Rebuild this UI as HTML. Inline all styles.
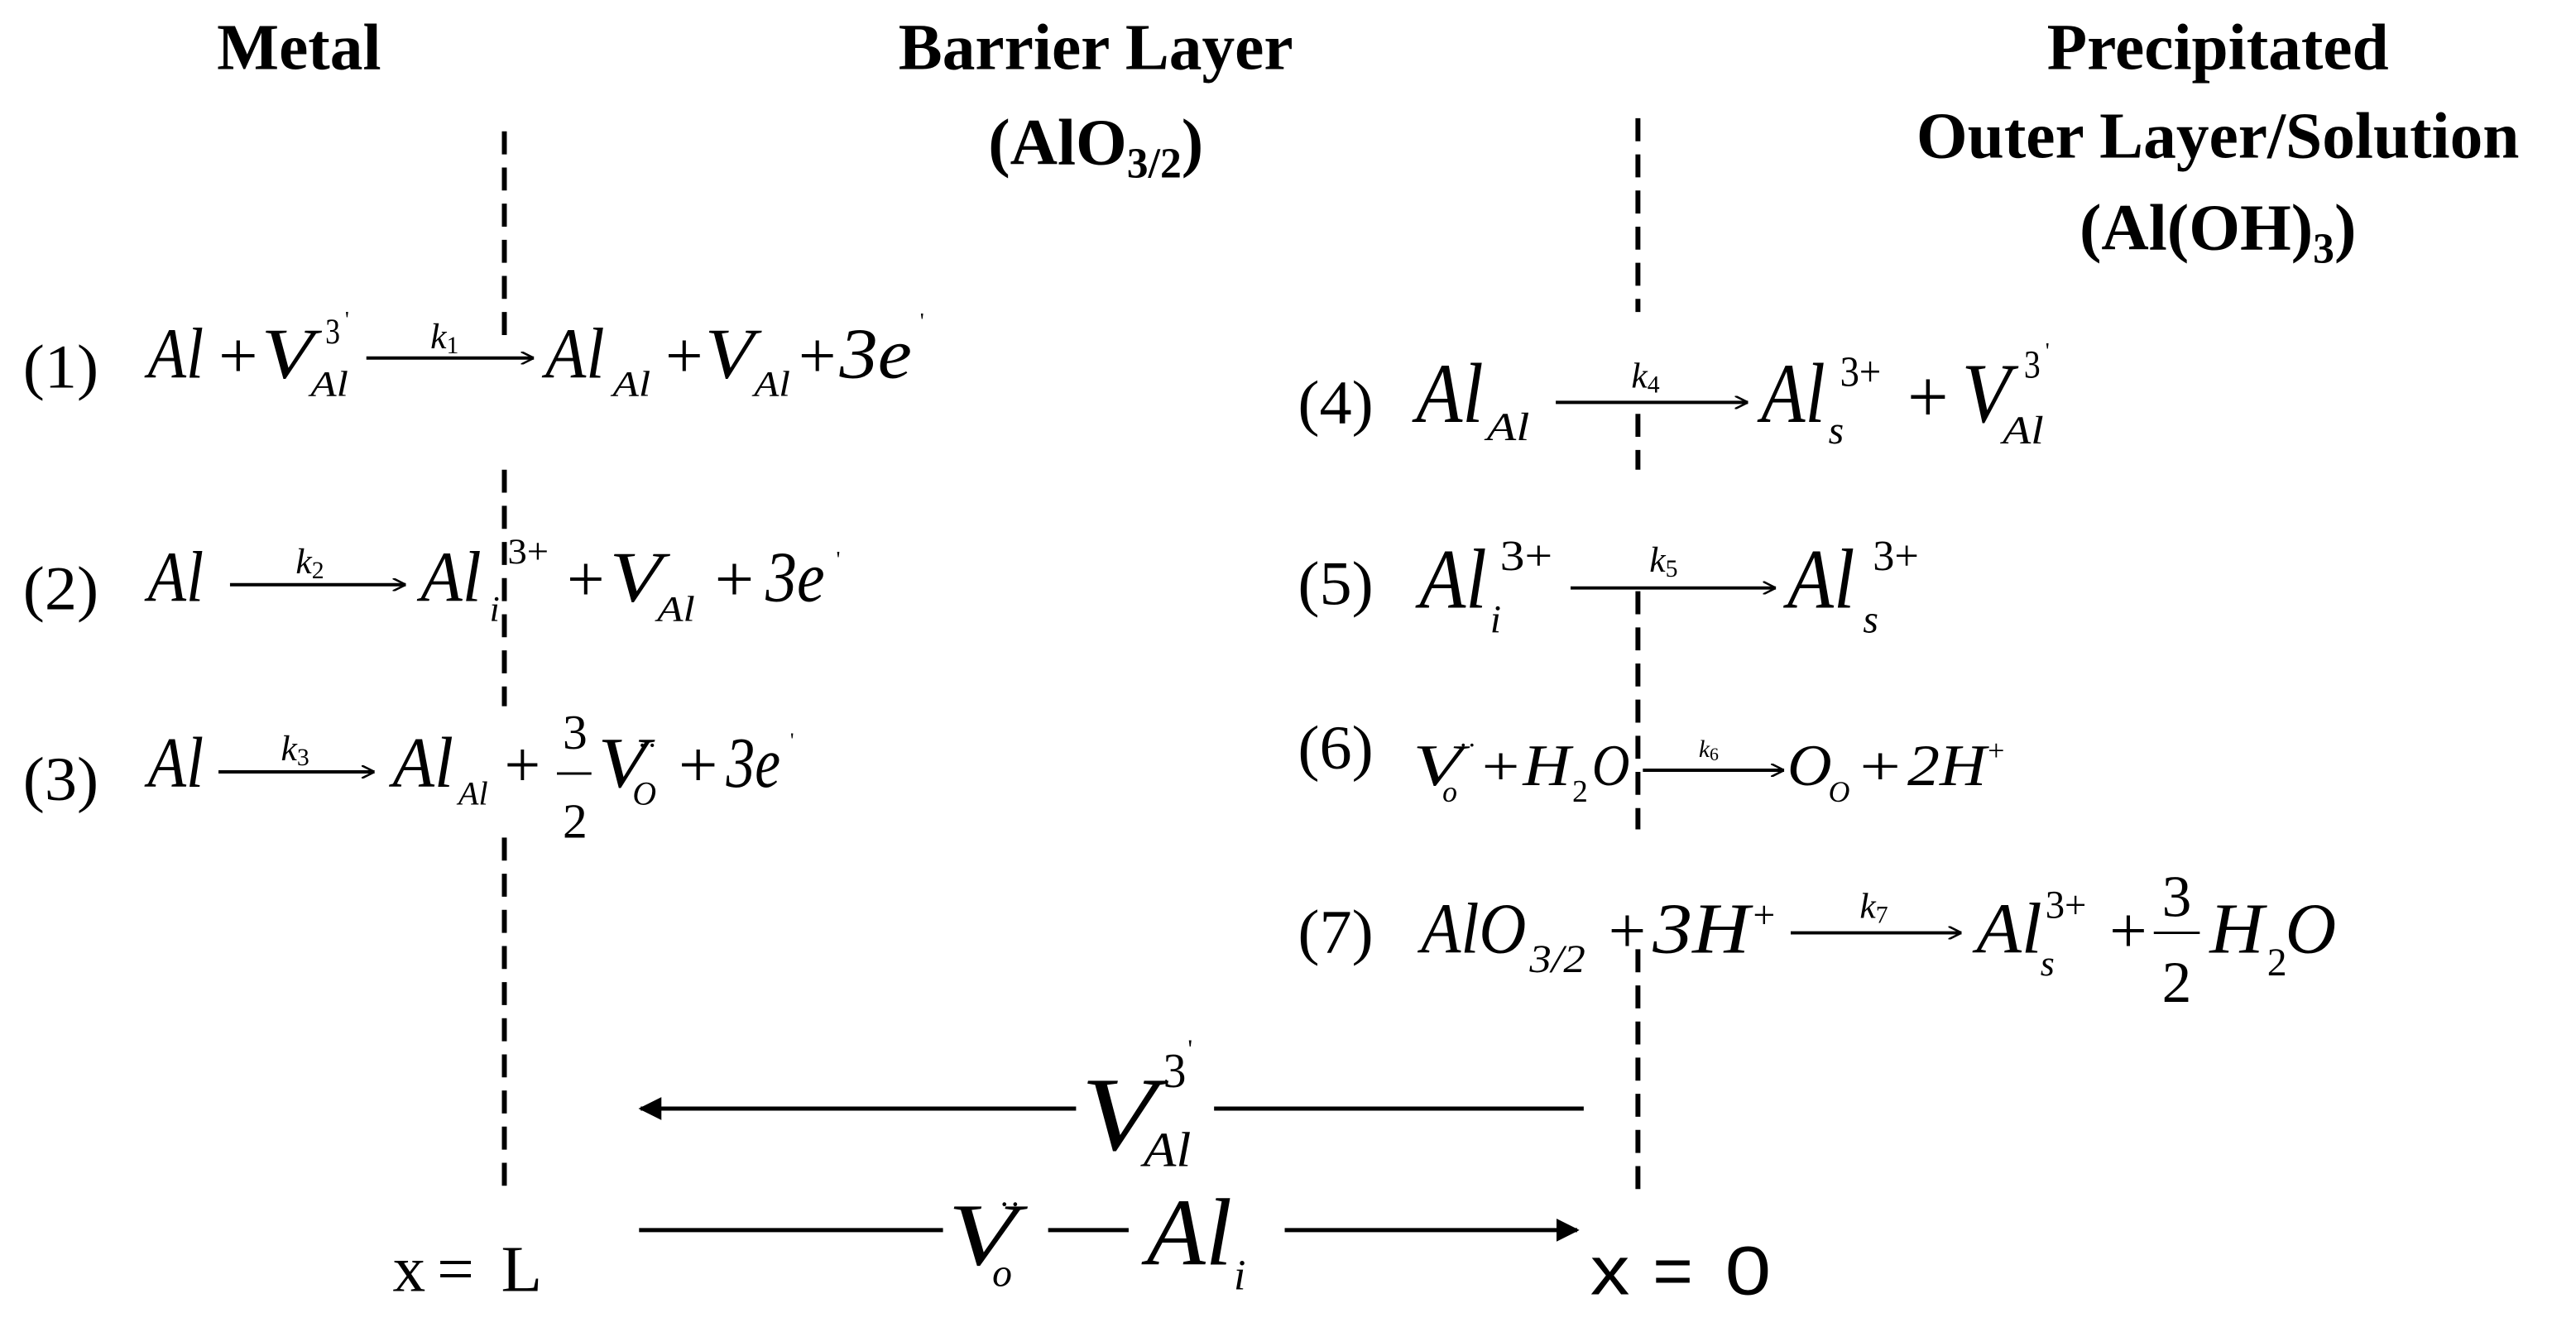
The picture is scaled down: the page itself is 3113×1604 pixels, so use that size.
<!DOCTYPE html>
<html><head><meta charset="utf-8"><style>
html,body{margin:0;padding:0;background:#fff;}
svg{display:block;}
text{font-family:"Liberation Serif",serif;fill:#000;}
.h{font-weight:bold;font-size:40px;text-anchor:middle;}
.i{font-style:italic;}
.m{text-anchor:middle;}
</style></head><body>
<svg width="3113" height="1604" viewBox="0 0 1568 808" preserveAspectRatio="none" xmlns="http://www.w3.org/2000/svg">
<defs>
<marker id="ah" viewBox="0 0 10 10" refX="10" refY="5" markerWidth="8" markerHeight="8" orient="auto" markerUnits="userSpaceOnUse"><path d="M0,0 L10,5 L0,10" fill="none" stroke="#000" stroke-width="1.6"/></marker>
<marker id="bh" viewBox="0 0 10 10" refX="9" refY="5" markerWidth="14" markerHeight="14" orient="auto" markerUnits="userSpaceOnUse"><path d="M0,0 L10,5 L0,10 z" fill="#000"/></marker>
</defs>
<!-- headers -->
<text class="h" x="182" y="42">Metal</text>
<text class="h" x="667" y="42">Barrier Layer</text>
<text class="h" x="667" y="100">(AlO<tspan font-size="26" dy="8">3/2</tspan><tspan dy="-8">)</tspan></text>
<text class="h" x="1350" y="42">Precipitated</text>
<text class="h" x="1350" y="96">Outer Layer/Solution</text>
<text class="h" x="1350" y="152">(Al(OH)<tspan font-size="26" dy="8">3</tspan><tspan dy="-8">)</tspan></text>
<!-- dashed lines -->
<g stroke="#000" stroke-width="3" stroke-dasharray="14,8">
<line x1="307" y1="80" x2="307" y2="208"/>
<line x1="307" y1="286" x2="307" y2="430"/>
<line x1="307" y1="510" x2="307" y2="726"/>
<line x1="997" y1="72" x2="997" y2="190"/>
<line x1="997" y1="252" x2="997" y2="286"/>
<line x1="997" y1="360" x2="997" y2="505"/>
<line x1="997" y1="578" x2="997" y2="726"/>
</g>
<g stroke="#000" stroke-width="2" fill="none">
<line x1="223" y1="218" x2="325" y2="218" marker-end="url(#ah)"/>
<line x1="140" y1="356" x2="247" y2="356" marker-end="url(#ah)"/>
<line x1="133" y1="470" x2="228" y2="470" marker-end="url(#ah)"/>
<line x1="947" y1="245" x2="1064" y2="245" marker-end="url(#ah)"/>
<line x1="956" y1="358" x2="1081" y2="358" marker-end="url(#ah)"/>
<line x1="1000" y1="469" x2="1086" y2="469" marker-end="url(#ah)"/>
<line x1="1090" y1="568" x2="1194" y2="568" marker-end="url(#ah)"/>
<line x1="339" y1="471" x2="360" y2="471" stroke-width="1.5"/>
<line x1="1311" y1="568" x2="1339" y2="568" stroke-width="1.5"/>
</g>
<!-- eq 1 -->
<text font-size="38" x="14" y="236" textLength="46" lengthAdjust="spacingAndGlyphs">(1)</text>
<text class="i" font-size="44" x="90" y="230" textLength="34" lengthAdjust="spacingAndGlyphs">Al</text>
<text font-size="40" x="133" y="230" textLength="24" lengthAdjust="spacingAndGlyphs">+</text>
<text class="i" font-size="44" x="159" y="230" textLength="32" lengthAdjust="spacingAndGlyphs">V</text>
<text font-size="22" x="198" y="209" textLength="9" lengthAdjust="spacingAndGlyphs">3</text><text font-size="14" x="210" y="199">'</text>
<text class="i" font-size="22" x="189" y="241" textLength="23" lengthAdjust="spacingAndGlyphs">Al</text>
<text class="i" font-size="22" x="262" y="212">k<tspan font-style="normal" font-size="15" dy="3">1</tspan></text>
<text class="i" font-size="44" x="332" y="230" textLength="36" lengthAdjust="spacingAndGlyphs">Al</text>
<text class="i" font-size="22" x="373" y="241" textLength="23" lengthAdjust="spacingAndGlyphs">Al</text>
<text font-size="40" x="405" y="230" textLength="23" lengthAdjust="spacingAndGlyphs">+</text>
<text class="i" font-size="44" x="429" y="230" textLength="30" lengthAdjust="spacingAndGlyphs">V</text>
<text class="i" font-size="22" x="459" y="241" textLength="22" lengthAdjust="spacingAndGlyphs">Al</text>
<text font-size="40" x="486" y="230" textLength="23" lengthAdjust="spacingAndGlyphs">+</text>
<text class="i" font-size="44" x="511" y="230" textLength="44" lengthAdjust="spacingAndGlyphs">3e</text>
<text font-size="14" x="560" y="200">'</text>
<!-- eq 2 -->
<text font-size="38" x="14" y="371" textLength="46" lengthAdjust="spacingAndGlyphs">(2)</text>
<text class="i" font-size="44" x="90" y="366" textLength="34" lengthAdjust="spacingAndGlyphs">Al</text>
<text class="i" font-size="22" x="180" y="349">k<tspan font-style="normal" font-size="15" dy="3">2</tspan></text>
<text class="i" font-size="44" x="256" y="366" textLength="37" lengthAdjust="spacingAndGlyphs">Al</text>
<text font-size="22" x="309" y="343" textLength="25" lengthAdjust="spacingAndGlyphs">3+</text>
<text class="i" font-size="22" x="298" y="378">i</text>
<text font-size="40" x="345" y="366" textLength="23" lengthAdjust="spacingAndGlyphs">+</text>
<text class="i" font-size="44" x="371" y="366" textLength="32" lengthAdjust="spacingAndGlyphs">V</text>
<text class="i" font-size="22" x="400" y="378" textLength="23" lengthAdjust="spacingAndGlyphs">Al</text>
<text font-size="40" x="435" y="366" textLength="24" lengthAdjust="spacingAndGlyphs">+</text>
<text class="i" font-size="44" x="466" y="366" textLength="36" lengthAdjust="spacingAndGlyphs">3e</text>
<text font-size="14" x="509" y="345">'</text>
<!-- eq 3 -->
<text font-size="38" x="14" y="487" textLength="46" lengthAdjust="spacingAndGlyphs">(3)</text>
<text class="i" font-size="44" x="90" y="479" textLength="34" lengthAdjust="spacingAndGlyphs">Al</text>
<text class="i" font-size="22" x="171" y="463">k<tspan font-style="normal" font-size="15" dy="3">3</tspan></text>
<text class="i" font-size="44" x="239" y="479" textLength="37" lengthAdjust="spacingAndGlyphs">Al</text>
<text class="i" font-size="20" x="279" y="490" textLength="18" lengthAdjust="spacingAndGlyphs">Al</text>
<text font-size="40" x="307" y="479" textLength="22" lengthAdjust="spacingAndGlyphs">+</text>
<text class="m" font-size="30" x="350" y="456">3</text>
<text class="m" font-size="30" x="350" y="510">2</text>
<text class="i" font-size="44" x="364" y="479" textLength="30" lengthAdjust="spacingAndGlyphs">V</text>
<text font-size="18" x="388" y="460">··</text>
<text class="i" font-size="20" x="385" y="490">O</text>
<text font-size="40" x="413" y="479" textLength="24" lengthAdjust="spacingAndGlyphs">+</text>
<text class="i" font-size="44" x="442" y="479" textLength="33" lengthAdjust="spacingAndGlyphs">3e</text>
<text font-size="13" x="481" y="455">'</text>
<!-- eq 4 -->
<text font-size="38" x="790" y="258" textLength="46" lengthAdjust="spacingAndGlyphs">(4)</text>
<text class="i" font-size="52" x="862" y="257" textLength="41" lengthAdjust="spacingAndGlyphs">Al</text>
<text class="i" font-size="24" x="905" y="268" textLength="26" lengthAdjust="spacingAndGlyphs">Al</text>
<text class="i" font-size="22" x="993" y="236">k<tspan font-style="normal" font-size="15" dy="3">4</tspan></text>
<text class="i" font-size="52" x="1072" y="257" textLength="39" lengthAdjust="spacingAndGlyphs">Al</text>
<text font-size="26" x="1120" y="235" textLength="25" lengthAdjust="spacingAndGlyphs">3+</text>
<text class="i" font-size="24" x="1113" y="270">s</text>
<text font-size="46" x="1161" y="257" textLength="25" lengthAdjust="spacingAndGlyphs">+</text>
<text class="i" font-size="52" x="1194" y="257" textLength="30" lengthAdjust="spacingAndGlyphs">V</text>
<text font-size="24" x="1232" y="230" textLength="10" lengthAdjust="spacingAndGlyphs">3</text><text font-size="14" x="1245" y="218">'</text>
<text class="i" font-size="24" x="1219" y="270" textLength="25" lengthAdjust="spacingAndGlyphs">Al</text>
<!-- eq 5 -->
<text font-size="38" x="790" y="368" textLength="46" lengthAdjust="spacingAndGlyphs">(5)</text>
<text class="i" font-size="52" x="864" y="370" textLength="41" lengthAdjust="spacingAndGlyphs">Al</text>
<text font-size="26" x="913" y="347" textLength="32" lengthAdjust="spacingAndGlyphs">3+</text>
<text class="i" font-size="24" x="907" y="385">i</text>
<text class="i" font-size="22" x="1004" y="348">k<tspan font-style="normal" font-size="15" dy="3">5</tspan></text>
<text class="i" font-size="52" x="1088" y="370" textLength="41" lengthAdjust="spacingAndGlyphs">Al</text>
<text font-size="26" x="1140" y="347" textLength="28" lengthAdjust="spacingAndGlyphs">3+</text>
<text class="i" font-size="24" x="1134" y="385">s</text>
<!-- eq 6 -->
<text font-size="38" x="790" y="468" textLength="46" lengthAdjust="spacingAndGlyphs">(6)</text>
<text class="i" font-size="36" x="860" y="478" textLength="30" lengthAdjust="spacingAndGlyphs">V</text>
<text font-size="16" x="888" y="459">··</text>
<text class="i" font-size="18" x="878" y="488">o</text>
<text font-size="34" x="902" y="478" textLength="23" lengthAdjust="spacingAndGlyphs">+</text>
<text class="i" font-size="36" x="927" y="478" textLength="29" lengthAdjust="spacingAndGlyphs">H</text>
<text font-size="19" x="957" y="488">2</text>
<text class="i" font-size="36" x="969" y="478" textLength="23" lengthAdjust="spacingAndGlyphs">O</text>
<text class="i" font-size="15" x="1034" y="461">k<tspan font-style="normal" font-size="11" dy="2">6</tspan></text>
<text class="i" font-size="36" x="1088" y="478" textLength="27" lengthAdjust="spacingAndGlyphs">O</text>
<text class="i" font-size="18" x="1113" y="488">O</text>
<text font-size="34" x="1132" y="478" textLength="25" lengthAdjust="spacingAndGlyphs">+</text>
<text class="i" font-size="36" x="1161" y="478" textLength="48" lengthAdjust="spacingAndGlyphs">2H</text>
<text font-size="18" x="1210" y="463">+</text>
<!-- eq 7 -->
<text font-size="38" x="790" y="580" textLength="46" lengthAdjust="spacingAndGlyphs">(7)</text>
<text class="i" font-size="44" x="865" y="580" textLength="64" lengthAdjust="spacingAndGlyphs">AlO</text>
<text class="i" font-size="24" x="931" y="592" textLength="34" lengthAdjust="spacingAndGlyphs">3/2</text>
<text font-size="40" x="979" y="580" textLength="23" lengthAdjust="spacingAndGlyphs">+</text>
<text class="i" font-size="44" x="1006" y="580" textLength="59" lengthAdjust="spacingAndGlyphs">3H</text>
<text font-size="24" x="1067" y="565">+</text>
<text class="i" font-size="22" x="1132" y="559">k<tspan font-style="normal" font-size="15" dy="3">7</tspan></text>
<text class="i" font-size="44" x="1203" y="580" textLength="40" lengthAdjust="spacingAndGlyphs">Al</text>
<text font-size="24" x="1245" y="559" textLength="25" lengthAdjust="spacingAndGlyphs">3+</text>
<text class="i" font-size="22" x="1242" y="594">s</text>
<text font-size="40" x="1284" y="580" textLength="23" lengthAdjust="spacingAndGlyphs">+</text>
<text class="m" font-size="36" x="1325" y="558">3</text>
<text class="m" font-size="36" x="1325" y="610">2</text>
<text class="i" font-size="44" x="1345" y="580" textLength="33" lengthAdjust="spacingAndGlyphs">H</text>
<text font-size="24" x="1380" y="594">2</text>
<text class="i" font-size="44" x="1391" y="580" textLength="31" lengthAdjust="spacingAndGlyphs">O</text>
<!-- transport arrows -->
<line x1="964" y1="675" x2="739" y2="675" stroke="#000" stroke-width="2.5"/>
<line x1="655" y1="675" x2="390" y2="675" stroke="#000" stroke-width="2.5" marker-end="url(#bh)"/>
<text class="i" font-size="64" x="658" y="700" textLength="46" lengthAdjust="spacingAndGlyphs">V</text>
<text font-size="30" x="708" y="662" textLength="14" lengthAdjust="spacingAndGlyphs">3</text><text font-size="16" x="723" y="644">'</text>
<text class="i" font-size="30" x="696" y="710" textLength="29" lengthAdjust="spacingAndGlyphs">Al</text>
<line x1="389" y1="749" x2="574" y2="749" stroke="#000" stroke-width="2.5"/>
<line x1="638" y1="749" x2="687" y2="749" stroke="#000" stroke-width="2.5"/>
<line x1="782" y1="749" x2="960" y2="749" stroke="#000" stroke-width="2.5" marker-end="url(#bh)"/>
<text class="i" font-size="54" x="577" y="770" textLength="42" lengthAdjust="spacingAndGlyphs">V</text>
<text font-size="20" x="608" y="740">··</text>
<text class="i" font-size="24" x="604" y="783">o</text>
<text class="i" font-size="58" x="698" y="770" textLength="52" lengthAdjust="spacingAndGlyphs">Al</text>
<text class="i" font-size="26" x="751" y="785">i</text>
<text font-size="40" x="239" y="786">x</text>
<text font-size="40" x="266" y="786">=</text>
<text font-size="40" x="305" y="786" textLength="25" lengthAdjust="spacingAndGlyphs">L</text>
<text x="968" y="788" font-size="42" style="font-family:'Liberation Sans',sans-serif" textLength="24" lengthAdjust="spacingAndGlyphs">x</text>
<text x="1006" y="788" font-size="42" style="font-family:'Liberation Sans',sans-serif">=</text>
<text x="1050" y="788" font-size="42" style="font-family:'Liberation Sans',sans-serif" textLength="28" lengthAdjust="spacingAndGlyphs">0</text>
</svg>
</body></html>
